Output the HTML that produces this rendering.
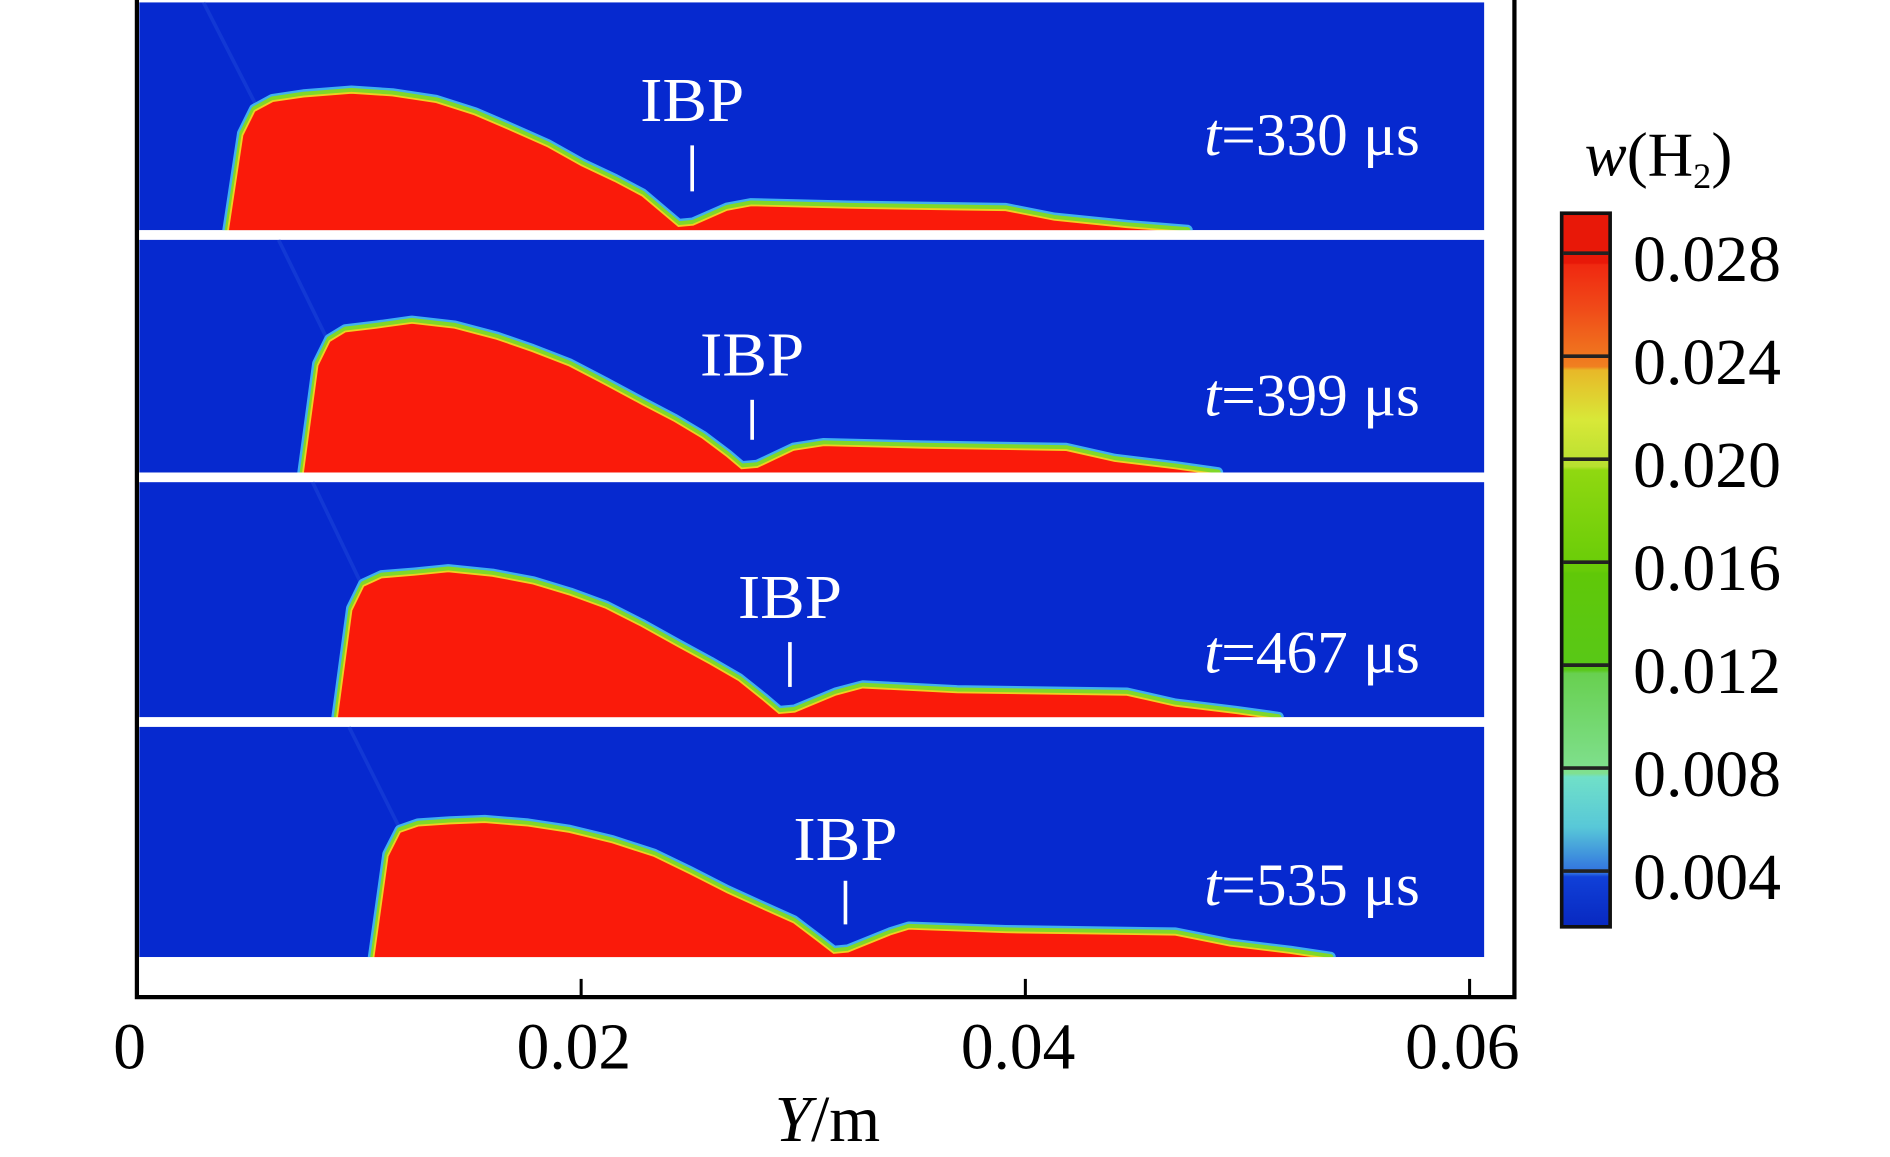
<!DOCTYPE html>
<html><head><meta charset="utf-8">
<style>html,body{margin:0;padding:0;background:#fff;}svg{display:block;}</style>
</head><body>
<svg id="chart" width="1890" height="1157" viewBox="0 0 1560 955" preserveAspectRatio="none" xmlns="http://www.w3.org/2000/svg" font-family="'Liberation Serif', serif">
<defs>
<linearGradient id="cb" x1="0" y1="0" x2="0" y2="1">
<stop offset="0" stop-color="#e81808"/><stop offset="0.07" stop-color="#e81808"/>
<stop offset="0.072" stop-color="#f02810"/><stop offset="0.13" stop-color="#f04818"/><stop offset="0.215" stop-color="#f08020"/>
<stop offset="0.22" stop-color="#e8b828"/><stop offset="0.29" stop-color="#d8e838"/><stop offset="0.355" stop-color="#b8e030"/>
<stop offset="0.36" stop-color="#90d810"/><stop offset="0.5" stop-color="#68cc08"/>
<stop offset="0.505" stop-color="#60c808"/><stop offset="0.64" stop-color="#58c818"/>
<stop offset="0.645" stop-color="#68d050"/><stop offset="0.785" stop-color="#80e090"/>
<stop offset="0.79" stop-color="#70e0c8"/><stop offset="0.86" stop-color="#58c8d8"/><stop offset="0.925" stop-color="#3070e0"/>
<stop offset="0.93" stop-color="#1040d8"/><stop offset="1" stop-color="#0828c0"/>
</linearGradient>
</defs>
<g id="panels"></g>
<g id="axes"></g>
<g id="colorbar"></g>
</svg>
<script>
// x-axis ticks (m)
const xTicks = [0, 0.02, 0.04, 0.06];
const xTickLabels = ["0", "0.02", "0.04", "0.06"];
const times = ["330", "399", "467", "535"];
// IBP location (mm)
const ibpY = [25.0, 27.7, 29.4, 31.9];
// H2 jet profile: streamwise position (mm) and layer thickness (mm)
const prof1Y = [4.09,4.75,5.29,6.11,7.5,9.66,11.5,13.47,15.2,16.75,18.5,20.02,21.5,22.75,23.73,24.38,25.04,26.57,27.66,32.02,39.11,41.29,44.57,47.29];
const prof1H = [0,4.36,5.45,5.89,6.1,6.27,6.15,5.85,5.3,4.63,3.85,3.0,2.3,1.64,0.82,0.27,0.33,1.0,1.2,1.09,0.98,0.55,0.22,0];
const prof2Y = [7.47,8.13,8.67,9.38,10.8,12.38,14.3,16.20,17.8,19.47,21.1,22.75,24.2,25.47,26.57,27.22,27.93,29.57,30.93,35.29,41.84,44.02,46.75,48.66];
const prof2H = [0,4.9,6.0,6.43,6.6,6.82,6.6,6.1,5.55,4.9,4.05,3.16,2.4,1.64,0.82,0.27,0.33,1.1,1.31,1.2,1.09,0.6,0.27,0];
const prof3Y = [9.0,9.66,10.2,11.02,12.5,14.02,16.0,17.84,19.5,21.11,22.7,24.38,25.8,27.11,28.2,28.91,29.62,31.48,32.68,36.93,44.57,46.75,49.48,51.39];
const prof3H = [0,4.9,6.0,6.38,6.5,6.65,6.45,6.1,5.6,5.01,4.2,3.27,2.5,1.74,0.87,0.27,0.33,1.1,1.42,1.2,1.09,0.6,0.27,0];
const prof4Y = [10.64,11.29,11.84,12.66,14.1,15.66,17.6,19.47,21.4,23.29,24.9,26.57,28.1,29.57,30.66,31.37,32.02,33.93,34.75,39.11,46.75,49.2,51.93,53.73];
const prof4H = [0,4.63,5.72,6.0,6.1,6.16,6.0,5.72,5.25,4.63,3.85,3.0,2.3,1.64,0.82,0.27,0.33,1.1,1.36,1.2,1.09,0.6,0.27,0];
const profY = [prof1Y, prof2Y, prof3Y, prof4Y];
const profH = [prof1H, prof2H, prof3H, prof4H];
const cbTicks = [0.028, 0.024, 0.020, 0.016, 0.012, 0.008, 0.004];

const NS = "http://www.w3.org/2000/svg";
const X0 = 113, X1 = 1213, XMAX = 0.06;
const xs = v => X0 + v / XMAX * (X1 - X0);
const xmm = v => xs(v / 1000);
const hScale = 18.33; // px per mm
const panelTop = [2, 198, 398, 600], panelBot = [190, 390, 592, 790];
function mk(tag, attrs, parent) { const e = document.createElementNS(NS, tag); for (const k in attrs) e.setAttribute(k, attrs[k]); parent.appendChild(e); return e; }
const gP = document.getElementById('panels');
for (let i = 0; i < 4; i++) {
  const bot = panelBot[i];
  const bg = mk('rect', {x:115, y:panelTop[i], width:1110, height:bot - panelTop[i], fill:'#0629cf'}, gP);
  
  
  const sh = mk('line', {x1:xmm(profY[i][0]) - 20, y1:panelTop[i], x2:xmm(profY[i][0]) + 25, y2:bot - 100, stroke:'#2a55e0', 'stroke-width':3, opacity:0.35}, gP);
  
  
  let d = '';
  profY[i].forEach((y, k) => { d += (k ? 'L' : 'M') + xmm(y).toFixed(1) + ',' + (bot - profH[i][k] * hScale).toFixed(1); });
  d += 'Z';
  const glow = mk('path', {d:d, fill:'none', stroke:'#40b0f0', 'stroke-width':9, 'stroke-linejoin':'round'}, gP);
  
  
  const edge = mk('path', {d:d, fill:'#fa1a0a', stroke:'#80d828', 'stroke-width':5, 'stroke-linejoin':'round'}, gP);
  
  
  const inner = mk('path', {d:d, fill:'#fa1a0a', stroke:'#f0d020', 'stroke-width':1.5, transform:'translate(0,1.5)'}, gP);
  
  
  const cover = mk('rect', {x:115, y:bot, width:1110, height:8, fill:'#fff'}, gP);
  
  
  const ix = xmm(ibpY[i]);
  const itext = mk('text', {x:ix, y:panelTop[i] + [98, 112, 112, 110][i], 'text-anchor':'middle', fill:'#fff', 'font-size':52, 'textLength':86, 'lengthAdjust':'spacingAndGlyphs'}, gP);
  itext.textContent = 'IBP';
  
  
  const il = mk('line', {x1:ix, x2:ix, y1:panelTop[i] + [118, 132, 132, 127][i], y2:panelTop[i] + [156, 165, 169, 163][i], stroke:'#fff', 'stroke-width':3}, gP);
  
  
  const tt = mk('text', {x:994, y:panelTop[i] + [126, 145, 157, 147][i], fill:'#fff', 'font-size':50, 'textLength':178, 'lengthAdjust':'spacingAndGlyphs'}, gP);
  tt.innerHTML = '<tspan font-style="italic">t</tspan>=' + times[i] + ' μs';
  
  
}
const gA = document.getElementById('axes');
const frame = mk('path', {d:'M113,0 V823 H1250 V0', fill:'none', stroke:'#000', 'stroke-width':3.5}, gA);


xTicks.forEach((t, k) => {
  const tk = mk('line', {x1:xs(t), x2:xs(t), y1:823, y2:808, stroke:'#000', 'stroke-width':2.5}, gA);
  
  
  const tl = mk('text', {x:xs(t) - 6, y:882, 'text-anchor':'middle', 'font-size':54, fill:'#000'}, gA);
  tl.textContent = xTickLabels[k];
  
  
});
const xt = mk('text', {x:683, y:942, 'text-anchor':'middle', 'font-size':54, fill:'#000'}, gA);
xt.innerHTML = '<tspan font-style="italic">Y</tspan>/m';


const gC = document.getElementById('colorbar');
const CB0 = 176, CB1 = 765;
const cbr = mk('rect', {x:1289, y:CB0, width:40, height:CB1 - CB0, fill:'url(#cb)', stroke:'#111', 'stroke-width':3}, gC);


const cy = v => 725 + (0.004 - v) / 0.004 * 85;
cbTicks.forEach(v => {
  const ln = mk('line', {x1:1290, x2:1328, y1:cy(v) - 6, y2:cy(v) - 6, stroke:'#222', 'stroke-width':3}, gC);
  
  
  const tl = mk('text', {x:1348, y:cy(v) + 17, 'font-size':54, fill:'#000', 'textLength':122, 'lengthAdjust':'spacingAndGlyphs'}, gC);
  tl.textContent = v.toFixed(3);
  
  
});
const ct = mk('text', {x:1308, y:145, 'font-size':52, fill:'#000'}, gC);
ct.innerHTML = '<tspan font-style="italic">w</tspan>(H<tspan font-size="30" dy="10">2</tspan><tspan dy="-10">)</tspan>';


</script>
</body></html>
